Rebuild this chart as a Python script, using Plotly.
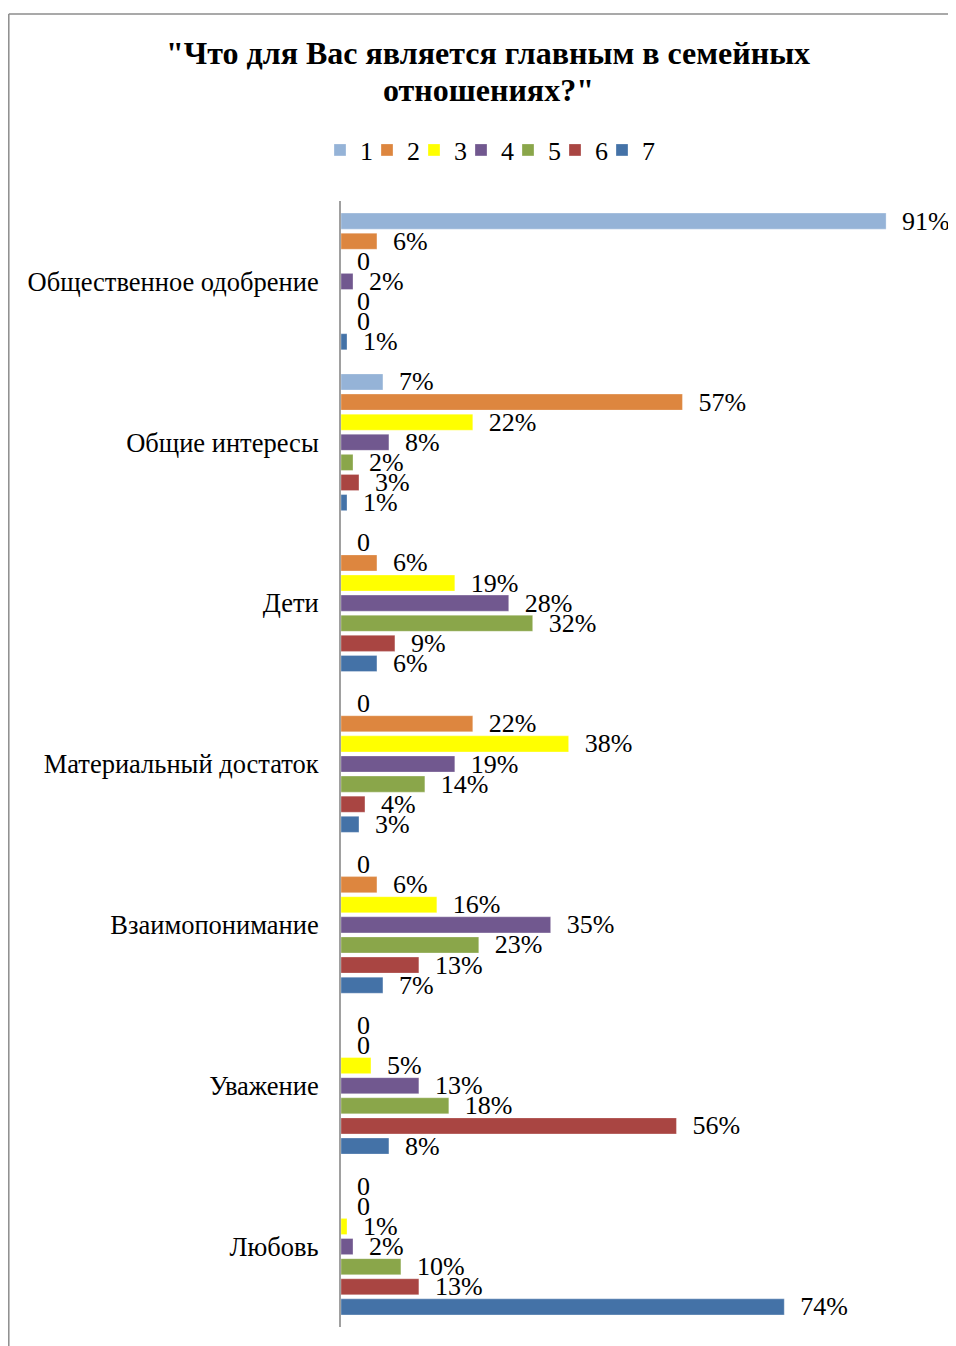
import plotly.graph_objects as go

categories = ["Общественное одобрение", "Общие интересы", "Дети",
              "Материальный достаток", "Взаимопонимание", "Уважение", "Любовь"]
series_names = ["1", "2", "3", "4", "5", "6", "7"]
# values per series, one entry per category (percent)
s1 = [91, 7, 0, 0, 0, 0, 0]
s2 = [6, 57, 6, 22, 6, 0, 0]
s3 = [0, 22, 19, 38, 16, 5, 1]
s4 = [2, 8, 28, 19, 35, 13, 2]
s5 = [0, 2, 32, 14, 23, 18, 10]
s6 = [0, 3, 9, 4, 13, 56, 13]
s7 = [1, 1, 6, 3, 7, 8, 74]
series_values = [s1, s2, s3, s4, s5, s6, s7]
colors = ["#95B3D7", "#DD863F", "#FFFF00", "#71588F", "#8AA64A", "#A94542", "#4472A7"]

FONT = "Liberation Serif"
OFF = 8  # page body margin
W, H = 948, 1338
L, R, T, B = 341 - OFF, 16, 201 - OFF, 19
pw, ph = W - L - R, H - T - B

fig = go.Figure()
for name, vals, col in zip(series_names, series_values, colors):
    labels = ["\u00a0\u00a0" + ("0" if v == 0 else f"{v}%") for v in vals]
    fig.add_trace(go.Bar(
        name=name, y=categories, x=vals, orientation="h",
        marker=dict(color=col, line=dict(color="rgba(255,255,255,0.6)", width=0.5)),
        text=labels, textposition="outside", constraintext="none",
        cliponaxis=False,
        textfont=dict(family=FONT, size=26, color="black"),
    ))

# invisible spacer legend entry so the last legend label is not clipped
fig.add_trace(go.Scatter(x=[None], y=[None], mode="markers", name=" ",
                         marker=dict(color="rgba(0,0,0,0)"), hoverinfo="skip"))

def px_x(px):
    return (px - OFF - L) / pw

def px_y(py):
    return (H - B - (py - OFF)) / ph

fig.update_layout(
    width=W, height=H,
    margin=dict(l=L, r=R, t=T, b=B),
    paper_bgcolor="white", plot_bgcolor="white",
    barmode="group", bargap=0.125, bargroupgap=0.2,
    showlegend=True,
    legend=dict(orientation="h", x=px_x(508), y=px_y(150), xanchor="center", yanchor="middle",
                font=dict(family=FONT, size=26, color="black"), traceorder="normal",
                entrywidth=2, entrywidthmode="pixels", bgcolor="rgba(0,0,0,0)"),
    xaxis=dict(range=[0, 100], showticklabels=False, showgrid=False, zeroline=False,
               showline=False, ticks=""),
    yaxis=dict(autorange="reversed", showgrid=False, zeroline=False, showline=True,
               linecolor="#A0A0A0", linewidth=2, ticks="", ticklabelstandoff=15,
               tickfont=dict(family=FONT, size=26.5, color="black")),
    annotations=[
        dict(text="<b>\"Что для Вас является главным в семейных</b>", xref="paper", yref="paper",
             x=px_x(488), y=px_y(53), xanchor="center", yanchor="middle", showarrow=False,
             font=dict(family=FONT, size=32, color="black")),
        dict(text="<b>отношениях?\"</b>", xref="paper", yref="paper",
             x=px_x(488), y=px_y(90), xanchor="center", yanchor="middle", showarrow=False,
             font=dict(family=FONT, size=32, color="black")),
    ],
    shapes=[
        dict(type="line", xref="paper", yref="paper", x0=px_x(8.8), x1=px_x(960),
             y0=px_y(14), y1=px_y(14), line=dict(color="#8C8C8C", width=1.5)),
        dict(type="line", xref="paper", yref="paper", x0=px_x(8.8), x1=px_x(8.8),
             y0=px_y(14), y1=px_y(1350), line=dict(color="#8C8C8C", width=1.5)),
    ],
)

fig.write_html("out.html")
